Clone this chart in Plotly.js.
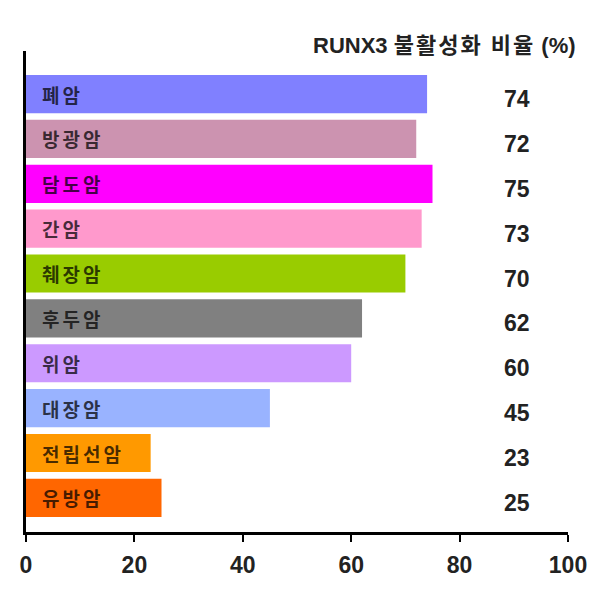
<!DOCTYPE html>
<html>
<head>
<meta charset="utf-8">
<script src="https://cdn.plot.ly/plotly-3.0.1.min.js"></script>
<style>
  html, body { margin: 0; padding: 0; background: #fff; }
  #chart { width: 600px; height: 600px; }
</style>
</head>
<body>
<div id="chart"></div>
<script>
const categories = ["폐암", "방광암", "담도암", "간암", "췌장암", "후두암", "위암", "대장암", "전립선암", "유방암"];
const values = [74, 72, 75, 73, 70, 62, 60, 45, 23, 25];
const valueLabels = ["74", "72", "75", "73", "70", "62", "60", "45", "23", "25"];
const barColors = ["#8080ff", "#cc93b0", "#ff00ff", "#ff99cc", "#99cc00", "#808080", "#cc99ff", "#99b3ff", "#ff9900", "#ff6600"];
const xTicks = [0, 20, 40, 60, 80, 100];
const titleLatin = "RUNX3";
const titleKorean = "불활성화 비율";
const titleUnit = "(%)";

const trace = {
  type: "bar",
  orientation: "h",
  x: values,
  y: categories,
  marker: { color: barColors, line: { width: 0 } },
  hoverinfo: "none"
};

const annotations = [];
categories.forEach((c, i) => {
  annotations.push({
    x: 0, y: c, xref: "x", yref: "y",
    xanchor: "left", yanchor: "middle", xshift: 14,
    text: '<span style="letter-spacing:3px">' + c + '</span>',
    showarrow: false,
    font: { family: "'Noto Sans CJK KR', sans-serif", size: 19, color: "rgba(0,0,0,0.72)", weight: "bold" }
  });
  annotations.push({
    x: 90.6, y: c, xref: "x", yref: "y",
    xanchor: "center", yanchor: "middle", yshift: -5,
    text: valueLabels[i],
    showarrow: false,
    font: { family: "'Liberation Sans', Arial, sans-serif", size: 23, color: "#222", weight: "bold" }
  });
});
annotations.push({
  x: 1.018, y: 1, xref: "paper", yref: "paper",
  xanchor: "right", yanchor: "middle", yshift: 6,
  text: titleLatin + ' <span style="letter-spacing:2px">' + titleKorean + '</span> ' + titleUnit,
  showarrow: false,
  font: { family: "'Liberation Sans', Arial, 'Noto Sans CJK KR', sans-serif", size: 22, color: "#222", weight: "bold" }
});

const layout = {
  width: 600, height: 600,
  margin: { l: 26, r: 32, t: 51, b: 68 },
  paper_bgcolor: "#fff", plot_bgcolor: "#fff",
  showlegend: false,
  bargap: 0.15,
  xaxis: {
    range: [0, 100],
    tickvals: xTicks,
    ticktext: xTicks.map(String),
    showgrid: false, zeroline: false,
    showline: true, linecolor: "#000", linewidth: 3,
    ticks: "outside", ticklen: 7, tickwidth: 2, tickcolor: "#000",
    ticklabelstandoff: 3,
    tickfont: { family: "'Liberation Sans', Arial, sans-serif", size: 23, color: "#222", weight: "bold" }
  },
  yaxis: {
    type: "category",
    range: [9.76, -0.96],
    showgrid: false, zeroline: false,
    showline: true, linecolor: "#000", linewidth: 3,
    showticklabels: false, ticks: ""
  },
  annotations: annotations
};

Plotly.newPlot("chart", [trace], layout, { displayModeBar: false, staticPlot: true });
</script>
</body>
</html>
